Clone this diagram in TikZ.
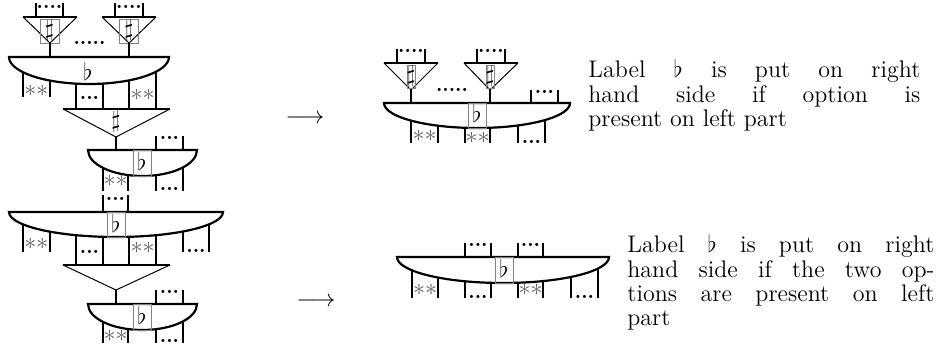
\documentclass[tikz,border=0pt]{standalone}
\usepackage{amsmath, amssymb}
\definecolor{boxgray}{RGB}{130, 130, 130}
\definecolor{stargray}{RGB}{95, 95, 95}

\begin{document}
\begin{tikzpicture}[x=0.5pt, y=-0.5pt,
  wire/.style={line width=1.1pt},
  slope/.style={line width=0.5pt},
  bowl/.style={line width=1.1pt, fill=white},
  lblbox/.style={draw=boxgray, line width=0.45pt},
  sym/.style={inner sep=0pt, font=\large},
  stars/.style={text=stargray, inner sep=0pt, font=\large},
  dts/.style={inner sep=0pt, font=\bfseries},
  note/.style={anchor=base west, inner sep=0pt, align=justify, font=\fontsize{12}{12.1}\selectfont}]

  \useasboundingbox (0,0) rectangle (936,351);

  % Top left: two triangles over a wide bowl
  \draw[wire] (36,3) -- (36,17) (63,3) -- (63,17) (115,3) -- (115,17) (143,3) -- (143,17);
  \node[dts] (ta1) at (49.5,7) {....};
  \node[dts] (ta2) at (129,7) {....};
  \draw[slope] (23,17) -- (50,43) -- (77,17);
  \draw[wire] (23,17) -- (77,17);
  \draw[slope] (102,17) -- (129,43) -- (156,17);
  \draw[wire] (102,17) -- (156,17);
  \draw[lblbox] (40,19) rectangle (59,43);
  \draw[lblbox] (119.5,19) rectangle (138.5,43);
  \node[sym] (sa1) at (49.5,31) {$\sharp$};
  \node[sym] (sa2) at (129,31) {$\sharp$};
  \node[dts] (ma1) at (89.5,43) {.....};
  \draw[wire] (50,43) -- (50,57) (129,43) -- (129,57);
  \draw[wire] (23,57) -- (23,97) (50,57) -- (50,97) (76,57) -- (76,109) (103,57) -- (103,109)
    (129,57) -- (129,109) (156,57) -- (156,109);
  \draw[bowl] (169,57) -- (9,57) arc[start angle=180, end angle=0, x radius=80, y radius=27] -- cycle;
  \node[sym] (fa1) at (88,72) {$\flat$};
  \node[stars] (xa1) at (36.5,91) {$\ast\ast$};
  \node[dts] (da1) at (89.5,98) {...};
  \node[stars] (xa2) at (142.5,95) {$\ast\ast$};
  \draw[slope] (63,109) -- (116,137) -- (170,109);
  \draw[wire] (63,109) -- (170,109);
  \node[sym] (sa3) at (116,122) {$\sharp$};
  \draw[wire] (116,137) -- (116,150);
  \draw[wire] (156,136) -- (156,150) (183,136) -- (183,150);
  \node[dts] (da2) at (169.5,138) {...};
  \draw[wire] (103,150) -- (103,191) (128,150) -- (128,191) (156,150) -- (156,191) (183,150) -- (183,191);
  \draw[bowl] (197,150) -- (88,150) arc[start angle=180, end angle=0, x radius=54.5, y radius=26] -- cycle;
  \draw[lblbox] (133,150) rectangle (151,176);
  \node[sym] (fa2) at (142,162) {$\flat$};
  \node[stars] (xa3) at (115.5,181) {$\ast\ast$};
  \node[dts] (da3) at (169.5,189) {...};

  % Bottom left: wide bowl, triangle, small bowl
  \draw[wire] (103,195) -- (103,212) (128,195) -- (128,212);
  \node[dts] (db1) at (115.5,199) {...};
  \draw[wire] (23,212) -- (23,252) (50,212) -- (50,252) (76,212) -- (76,265) (103,212) -- (103,265)
    (129,212) -- (129,265) (156,212) -- (156,265) (183,212) -- (183,252) (209,212) -- (209,252);
  \draw[bowl] (223,212) -- (9,212) arc[start angle=180, end angle=0, x radius=107, y radius=25] -- cycle;
  \draw[lblbox] (107,212) rectangle (125,237);
  \node[sym] (fb1) at (116,224) {$\flat$};
  \node[stars] (xb1) at (36.5,244) {$\ast\ast$};
  \node[dts] (db2) at (89.5,252) {...};
  \node[stars] (xb2) at (142.5,248) {$\ast\ast$};
  \node[dts] (db3) at (196,251) {...};
  \draw[slope] (63,265) -- (116,290) -- (170,265);
  \draw[wire] (63,265) -- (170,265);
  \draw[wire] (116,290) -- (116,304);
  \draw[wire] (156,290) -- (156,304) (183,290) -- (183,304);
  \node[dts] (db4) at (169.5,292) {...};
  \draw[wire] (103,304) -- (103,343) (128,304) -- (128,343) (156,304) -- (156,343) (183,304) -- (183,343);
  \draw[bowl] (197,304) -- (88,304) arc[start angle=180, end angle=0, x radius=54.5, y radius=26] -- cycle;
  \draw[lblbox] (133,304) rectangle (151,330);
  \node[sym] (fb2) at (142,316) {$\flat$};
  \node[stars] (xb3) at (115.5,336) {$\ast\ast$};
  \node[dts] (db5) at (169.5,341) {...};

  % Top right
  \draw[wire] (397,49) -- (397,63) (425,49) -- (425,63) (477,49) -- (477,63) (505,49) -- (505,63);
  \node[dts] (tc1) at (411,51) {....};
  \node[dts] (tc2) at (491,51) {....};
  \draw[slope] (384,63) -- (411,90) -- (438,63);
  \draw[wire] (384,63) -- (438,63);
  \draw[slope] (464,63) -- (490,90) -- (518,63);
  \draw[wire] (464,63) -- (518,63);
  \draw[lblbox] (407,65) rectangle (415,88);
  \draw[lblbox] (486,65) rectangle (494,88);
  \node[sym] (sc1) at (411,77) {$\sharp$};
  \node[sym] (sc2) at (490,77) {$\sharp$};
  \node[dts] (mc1) at (452,90) {.....};
  \draw[wire] (411,90) -- (411,103) (490,90) -- (490,103);
  \draw[wire] (531,90) -- (531,103) (558,90) -- (558,103);
  \node[dts] (dc1) at (544.5,92) {...};
  \draw[wire] (411,103) -- (411,143) (438,103) -- (438,143) (465,103) -- (465,143) (490,103) -- (490,143)
    (518,103) -- (518,143) (545,103) -- (545,143);
  \draw[bowl] (570,103) -- (384,103) arc[start angle=180, end angle=0, x radius=93, y radius=25] -- cycle;
  \draw[lblbox] (468,103) rectangle (486,128);
  \node[sym] (fc1) at (477,114) {$\flat$};
  \node[stars] (xc1) at (424.5,136) {$\ast\ast$};
  \node[stars] (xc2) at (477.5,138) {$\ast\ast$};
  \node[dts] (dc2) at (531.5,142) {...};

  % Bottom right
  \draw[wire] (465,243) -- (465,257) (491,243) -- (491,257) (518,243) -- (518,257) (543,243) -- (543,257);
  \node[dts] (dd1) at (478,245) {...};
  \node[dts] (dd2) at (530.5,245) {...};
  \draw[wire] (412,257) -- (412,298) (438,257) -- (438,298) (465,257) -- (465,298) (491,257) -- (491,298)
    (518,257) -- (518,298) (543,257) -- (543,298) (571,257) -- (571,298) (598,257) -- (598,298);
  \draw[bowl] (609,257) -- (397,257) arc[start angle=180, end angle=0, x radius=106, y radius=26] -- cycle;
  \draw[lblbox] (495,257) rectangle (513,283);
  \node[sym] (fd1) at (504,269) {$\flat$};
  \node[stars] (xd1) at (425,290) {$\ast\ast$};
  \node[dts] (dd3) at (478,297) {...};
  \node[stars] (xd2) at (530.5,290) {$\ast\ast$};
  \node[dts] (dd4) at (584.5,297) {...};

  % Arrows and notes
  \node[font=\large] (ar1) at (305,119) {$\longrightarrow$};
  \node[font=\large] (ar2) at (316,302) {$\longrightarrow$};
  \node[note, text width=166pt] (nt1) at (588,78) {Label $\flat$ is put on right\linebreak
    hand side if option is\linebreak present on left part};
  \node[note, text width=153.5pt] (nt2) at (627,253) {Label $\flat$ is put on right\linebreak
    hand side if the two op-\linebreak tions are present on left\linebreak part};
\end{tikzpicture}
\end{document}
